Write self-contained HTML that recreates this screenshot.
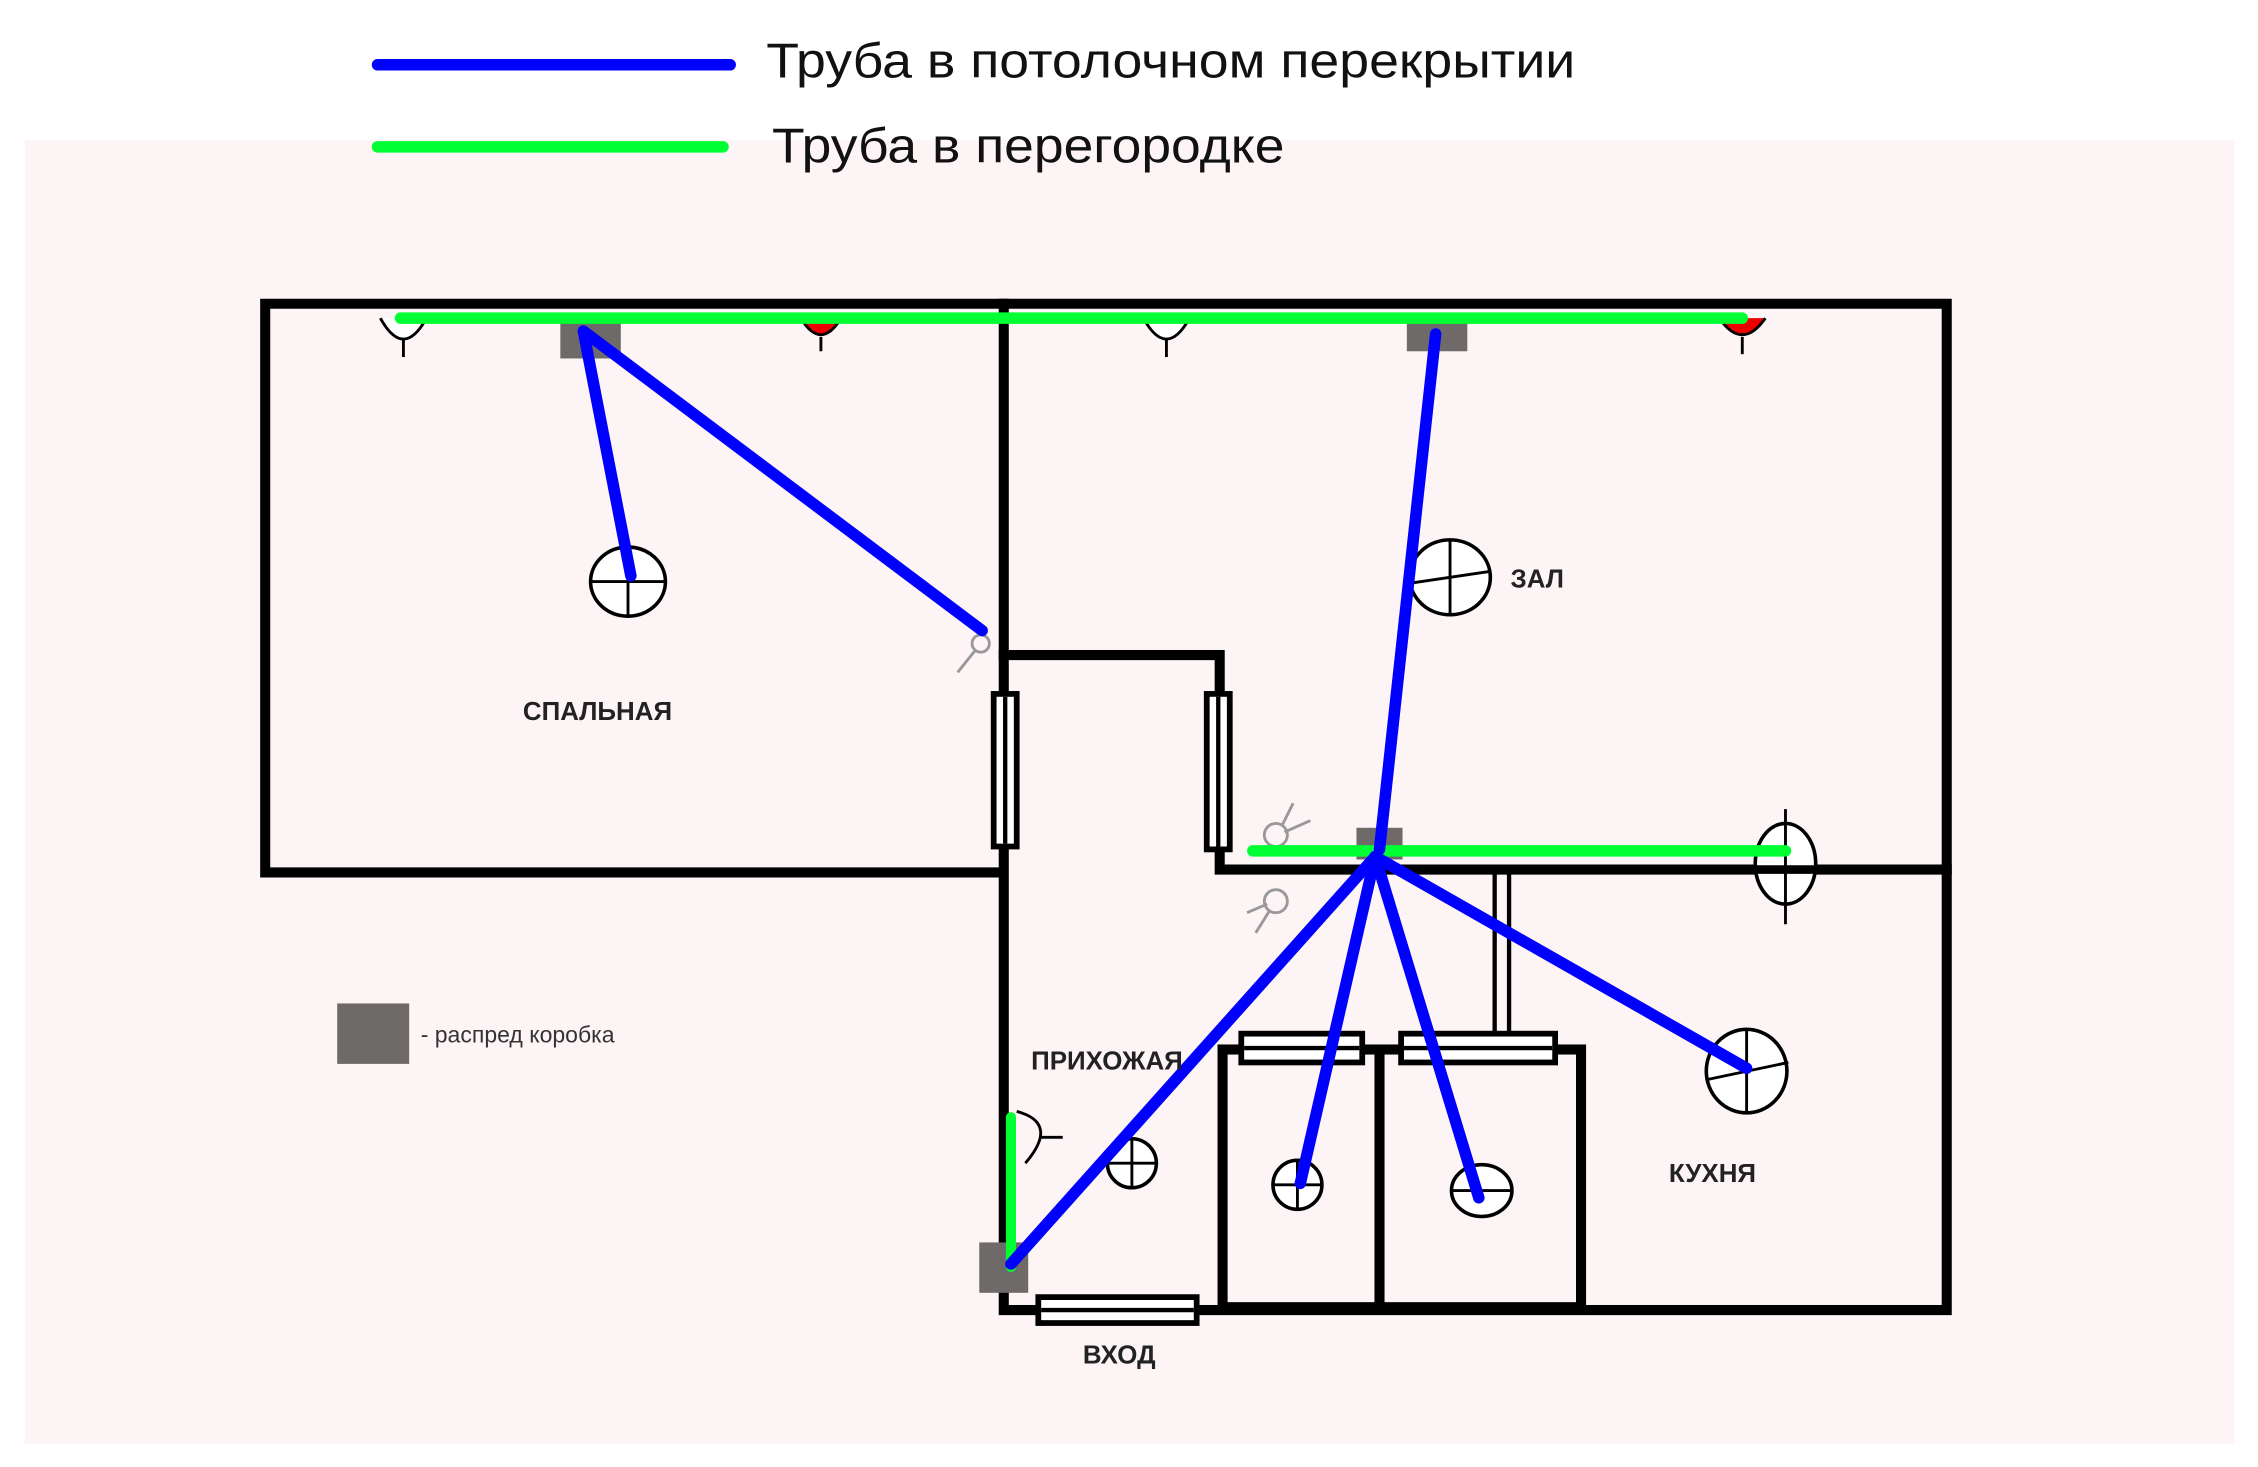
<!DOCTYPE html>
<html><head><meta charset="utf-8"><style>
html,body{margin:0;padding:0;background:#fff;}
svg{display:block;}
</style></head><body>
<svg width="2258" height="1467" viewBox="0 0 1568 1019" xmlns="http://www.w3.org/2000/svg">
<rect x="0" y="0" width="1568" height="1019" fill="#fff"/>
<rect x="17" y="97" width="1535" height="906" fill="#fdf5f5"/>
<line x1="262" y1="45" x2="507" y2="45" stroke="#0000ff" stroke-width="8" stroke-linecap="round"/>
<line x1="262" y1="102" x2="502" y2="102" stroke="#00ff33" stroke-width="8" stroke-linecap="round"/>
<text x="532" y="54" font-family="Liberation Sans Narrow, Liberation Sans, sans-serif" font-size="34" fill="#111" textLength="562" lengthAdjust="spacingAndGlyphs">Труба в потолочном перекрытии</text>
<text x="536" y="113" font-family="Liberation Sans Narrow, Liberation Sans, sans-serif" font-size="34" fill="#111" textLength="356" lengthAdjust="spacingAndGlyphs">Труба в перегородке</text>
<g stroke="#000" stroke-width="7" fill="none" stroke-linecap="square">
<polyline points="697,606 184,606 184,211 1352,211 1352,910 697,910 697,588"/>
<line x1="697" y1="211" x2="697" y2="482"/>
<polyline points="697,455 847,455 847,482"/>
<polyline points="847,590 847,604 1352,604"/>
<rect x="849" y="729" width="249" height="179"/>
<line x1="958" y1="729" x2="958" y2="908"/>
</g>
<g stroke="#000" stroke-width="4" fill="#fff">
<rect x="690" y="482" width="16" height="106"/>
<rect x="838" y="482" width="16" height="108"/>
<rect x="721" y="901" width="110" height="18"/>
<rect x="862" y="718" width="84" height="20"/>
<rect x="973" y="718" width="107" height="20"/>
</g>
<g stroke="#000" stroke-width="3">
<line x1="698" y1="484" x2="698" y2="586"/><line x1="846" y1="484" x2="846" y2="588"/>
<line x1="723" y1="910" x2="829" y2="910"/><line x1="864" y1="728" x2="944" y2="728"/><line x1="975" y1="728" x2="1078" y2="728"/>
<line x1="1038" y1="606" x2="1038" y2="718"/><line x1="1048" y1="606" x2="1048" y2="718"/></g>
<g stroke="#000" stroke-width="2.5" fill="#fff">
<ellipse cx="436" cy="404" rx="26" ry="24"/>
<ellipse cx="1007" cy="401" rx="28" ry="26"/>
<ellipse cx="1213" cy="744" rx="28" ry="29"/>
<circle cx="786" cy="808" r="17"/>
<circle cx="901" cy="823" r="17"/>
<ellipse cx="1029" cy="827" rx="21" ry="18"/>
<ellipse cx="1240" cy="600" rx="21" ry="28"/>
</g>
<g stroke="#000" stroke-width="2">
<line x1="410" y1="404" x2="462" y2="404"/><line x1="436" y1="404" x2="436" y2="428"/>
<line x1="980" y1="405" x2="1034" y2="397"/><line x1="1007" y1="375" x2="1007" y2="427"/>
<line x1="1185" y1="750" x2="1242" y2="738"/><line x1="1213" y1="715" x2="1213" y2="773"/>
<line x1="769" y1="808" x2="803" y2="808"/><line x1="786" y1="791" x2="786" y2="825"/>
<line x1="884" y1="823" x2="918" y2="823"/><line x1="901" y1="806" x2="901" y2="840"/>
<line x1="1008" y1="827" x2="1050" y2="827"/>
<line x1="1240" y1="562" x2="1240" y2="642"/><line x1="1218" y1="604" x2="1262" y2="604" stroke-width="6"/>
<path d="M264,221 Q280,250 296,221" fill="#fff"/><line x1="280" y1="236" x2="280" y2="248"/>
<path d="M794,221 Q810,250 826,221" fill="#fff"/><line x1="810" y1="236" x2="810" y2="248"/>
<path d="M556,221 Q570,244 584,221" fill="#e00"/><line x1="570" y1="234" x2="570" y2="244"/>
<path d="M1194,221 Q1210,244 1226,221" fill="#e00"/><line x1="1210" y1="234" x2="1210" y2="246"/>
<path d="M706,772 Q736,780 712,808" fill="none"/><line x1="722" y1="790" x2="738" y2="790"/>
</g>
<g stroke="#999" stroke-width="2" fill="none">
<circle cx="681" cy="447" r="6"/><line x1="677" y1="452" x2="665" y2="467"/>
<circle cx="886" cy="580" r="8"/><line x1="890" y1="574" x2="898" y2="558"/><line x1="892" y1="578" x2="910" y2="570"/>
<circle cx="886" cy="626" r="8"/><line x1="882" y1="632" x2="872" y2="648"/><line x1="880" y1="628" x2="866" y2="634"/>
</g>
<g fill="#6e6a6a">
<rect x="389" y="219" width="42" height="30"/>
<rect x="977" y="218" width="42" height="26"/>
<rect x="942" y="575" width="32" height="22"/>
<rect x="680" y="863" width="34" height="35"/>
<rect x="234" y="697" width="50" height="42"/>
</g>
<g stroke-linecap="round" fill="none">
<line x1="278" y1="221" x2="1210" y2="221" stroke="#00ff33" stroke-width="8"/>
<line x1="870" y1="591" x2="1240" y2="591" stroke="#00ff33" stroke-width="8"/>
<line x1="702" y1="776" x2="702" y2="880" stroke="#00ff33" stroke-width="7"/>
<g stroke="#0000ff" stroke-width="8">
<line x1="405" y1="230" x2="438" y2="400"/>
<line x1="405" y1="230" x2="682" y2="438"/>
<line x1="997" y1="232" x2="958" y2="590"/>
<line x1="955" y1="595" x2="702" y2="878"/>
<line x1="955" y1="595" x2="903" y2="822"/>
<line x1="955" y1="595" x2="1027" y2="832"/>
<line x1="955" y1="595" x2="1213" y2="742"/>
</g>
</g>
<g font-family="Liberation Sans, sans-serif" font-weight="bold" font-size="18" fill="#222">
<text x="363" y="500">СПАЛЬНАЯ</text>
<text x="1049" y="408">ЗАЛ</text>
<text x="716" y="743">ПРИХОЖАЯ</text>
<text x="1159" y="821">КУХНЯ</text>
<text x="752" y="947">ВХОД</text>
</g>
<text x="292" y="724" font-family="Liberation Sans, sans-serif" font-size="16" fill="#333">- распред коробка</text>
</svg>
</body></html>
